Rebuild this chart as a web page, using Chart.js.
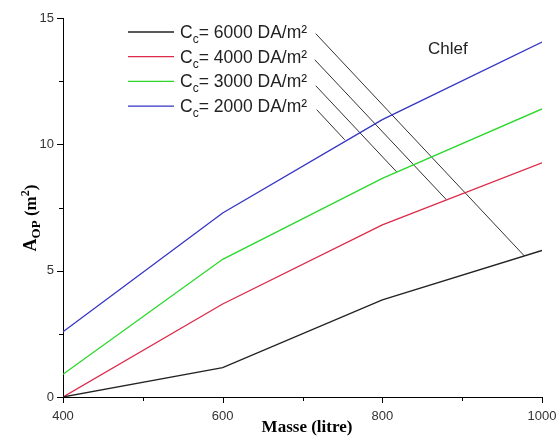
<!DOCTYPE html>
<html lang="fr">
<head>
<meta charset="UTF-8">
<title>Chlef</title>
<script src="https://cdn.jsdelivr.net/npm/chart.js"></script>
<style>
  body { margin: 0; background: #fff; }
  #wrap { width: 559px; height: 439px; }
</style>
</head>
<body>
<div id="wrap"><canvas id="chart"></canvas></div>
<script>
// donnees
const masse = [400, 600, 800, 1000];
const cc6000 = [0, 1.16, 3.84, 5.8];
const cc4000 = [0, 3.68, 6.81, 9.27];
const cc3000 = [0.9, 5.45, 8.65, 11.4];
const cc2000 = [2.58, 7.28, 10.98, 14.05];

const seriesValues = ['6000', '4000', '3000', '2000'];
const seriesColors = ['#222222', '#dc2a48', '#2ad82a', '#3434c4'];

// lignes de rappel (debut -> fin) en unites des axes
const leaderStartX = [716.6, 715.3, 716.6, 717.8];
const leaderStartY = [14.38, 13.35, 12.32, 11.37];
const leaderEndX = [978, 880.5, 817.9, 752.9];
const leaderEndY = [5.58, 7.80, 8.91, 10.18];

const xTicks = [400, 500, 600, 700, 800, 900, 1000];
const yTicks = [0, 2.5, 5, 7.5, 10, 12.5, 15];

const sansFont = '"Liberation Sans", Arial, sans-serif';
const serifFont = '"Liberation Serif", "Times New Roman", serif';

function pts(ys) { return masse.map((x, i) => ({ x, y: ys[i] })); }

const datasets = [cc6000, cc4000, cc3000, cc2000].map((ys, i) => ({
  data: pts(ys),
  borderColor: seriesColors[i],
  borderWidth: 1.3,
  pointRadius: 0,
  showLine: true,
  tension: 0
}));

leaderStartX.forEach((x0, i) => {
  datasets.push({
    data: [{ x: x0, y: leaderStartY[i] }, { x: leaderEndX[i], y: leaderEndY[i] }],
    borderColor: '#333',
    borderWidth: 1,
    pointRadius: 0,
    showLine: true
  });
});

// petits traits des axes (majeurs / mineurs)
const tickMarks = {
  id: 'tickMarks',
  afterDraw(chart) {
    const c = chart.ctx, xs = chart.scales.x, ys = chart.scales.y;
    c.save();
    c.strokeStyle = '#000';
    c.lineWidth = 1;
    c.beginPath();
    xTicks.forEach(v => {
      const p = Math.round(xs.getPixelForValue(v)) + 0.5;
      const len = v % 200 === 0 ? 6 : 4;
      c.moveTo(p, ys.bottom); c.lineTo(p, ys.bottom + len);
    });
    yTicks.forEach(v => {
      const p = Math.round(ys.getPixelForValue(v)) + 0.5;
      const len = v % 5 === 0 ? 6 : 4;
      c.moveTo(xs.left, p); c.lineTo(xs.left - len, p);
    });
    c.stroke();
    c.restore();
  }
};

// legende, titres des axes et annotation
const decorations = {
  id: 'decorations',
  afterDraw(chart) {
    const c = chart.ctx;
    c.save();
    c.textBaseline = 'alphabetic';
    // legende
    seriesValues.forEach((v, i) => {
      const y = 32 + i * 24.7;
      c.strokeStyle = seriesColors[i];
      c.lineWidth = 1.3;
      c.beginPath(); c.moveTo(128, y); c.lineTo(174, y); c.stroke();
      c.fillStyle = '#222';
      let x = 180;
      c.font = '17.5px ' + sansFont;
      c.fillText('C', x, y + 6); x += c.measureText('C').width;
      c.font = '12px ' + sansFont;
      c.fillText('c', x, y + 11); x += c.measureText('c').width;
      c.font = '17.5px ' + sansFont;
      c.fillText('= ' + v + ' DA/m\u00b2', x, y + 6);
    });
    // Chlef
    c.font = '17px ' + sansFont;
    c.fillStyle = '#222';
    c.fillText('Chlef', 428, 54);
    // titre axe X
    c.font = 'bold 17px ' + serifFont;
    c.fillStyle = '#000';
    c.textAlign = 'center';
    c.fillText('Masse (litre)', 307, 432);
    // titre axe Y
    c.translate(36, 218);
    c.rotate(-Math.PI / 2);
    c.textAlign = 'left';
    const parts = [
      { t: 'A', f: 'bold 18px ', dy: 0 },
      { t: 'OP', f: 'bold 13px ', dy: 4 },
      { t: ' (m', f: 'bold 17px ', dy: 0 },
      { t: '2', f: 'bold 12px ', dy: -7 },
      { t: ')', f: 'bold 17px ', dy: 0 }
    ];
    let w = 0;
    parts.forEach(p => { c.font = p.f + serifFont; w += c.measureText(p.t).width; });
    let x = -w / 2;
    parts.forEach(p => {
      c.font = p.f + serifFont;
      c.fillText(p.t, x, p.dy);
      x += c.measureText(p.t).width;
    });
    c.restore();
  }
};

new Chart(document.getElementById('chart'), {
  type: 'scatter',
  data: { datasets },
  options: {
    responsive: true,
    maintainAspectRatio: false,
    animation: false,
    layout: { padding: { top: 18, right: 17, left: 0, bottom: 0 } },
    plugins: { legend: { display: false }, tooltip: { enabled: false } },
    scales: {
      x: {
        type: 'linear',
        min: 400, max: 1000,
        afterFit: s => { s.height = 42; s.paddingLeft = 0; s.paddingRight = 0; },
        afterBuildTicks: s => { s.ticks = xTicks.map(v => ({ value: v })); },
        ticks: {
          padding: 12,
          color: '#333',
          font: { family: sansFont, size: 13 },
          callback: v => (v % 200 === 0 ? v : '')
        },
        grid: { drawOnChartArea: false, drawTicks: false },
        border: { display: true, color: '#000', width: 1 }
      },
      y: {
        type: 'linear',
        min: 0, max: 15,
        afterFit: s => { s.width = 63; s.paddingTop = 0; s.paddingBottom = 0; },
        afterBuildTicks: s => { s.ticks = yTicks.map(v => ({ value: v })); },
        ticks: {
          padding: 9,
          color: '#333',
          font: { family: sansFont, size: 13 },
          callback: v => (v % 5 === 0 ? v : '')
        },
        grid: { drawOnChartArea: false, drawTicks: false },
        border: { display: true, color: '#000', width: 1 }
      }
    }
  },
  plugins: [tickMarks, decorations]
});
</script>
</body>
</html>
